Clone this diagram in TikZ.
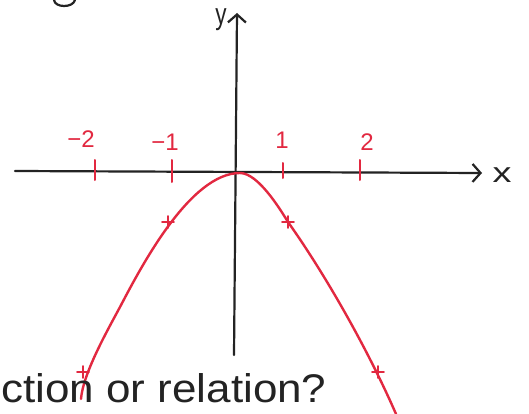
\documentclass[tikz,border=0pt]{standalone}
\usepackage{fontspec}
\setmainfont{Liberation Sans}
\usetikzlibrary{arrows.meta}
\definecolor{penred}{RGB}{226,40,64}
\definecolor{penblack}{RGB}{35,35,35}
\begin{document}
\begin{tikzpicture}[x=1pt,y=-1pt,
  axis/.style={draw=penblack,line width=2.2pt,line cap=round},
  curve/.style={draw=penred,line width=2.4pt,line cap=round,line join=round},
  tickmark/.style={draw=penred,line width=2pt,line cap=round},
  crossmark/.style={draw=penred,line width=1.8pt,line cap=round},
  ticklabel/.style={text=penred,font=\fontsize{24}{24}\selectfont,inner sep=0pt},
  axlabel/.style={text=penblack,inner sep=0pt},
  barb/.style={-{Straight Barb[length=8pt,width=18pt,line width=2.2pt]}},
  plusmark/.pic={\draw[crossmark] (-6,0) -- (6,0) (0,-6) -- (0,6);}]
\useasboundingbox (0,0) rectangle (529,414);
\fill[white] (0,0) rectangle (529,414);

% fragment of a letter at the top edge
\draw[penblack,line width=2.2pt,line cap=round] (54,0) .. controls (55,8) and (73,8) .. (75,0);

% axes
\coordinate (xs) at (15,171);
\coordinate (xe) at (482,173);
\coordinate (ys) at (234,355);
\coordinate (ye) at (237,13);
\draw[axis,barb] (xs) -- (xe);
\draw[axis,barb] (ys) -- (ye);
\node[axlabel,font=\fontsize{30}{30}\selectfont,xscale=0.75] (ylab) at (221,20) {y};
\node[axlabel,font=\fontsize{28}{28}\selectfont,xscale=1.35] (xlab) at (502,175) {x};

% ticks
\draw[tickmark] (95,160) -- (95,180);
\draw[tickmark] (172,160) -- (172,182);
\draw[tickmark] (283,163) -- (283,178);
\draw[tickmark] (360,160) -- (360,180);
\node[ticklabel] (tm2) at (81,139) {−2};
\node[ticklabel] (tm1) at (165,142) {−1};
\node[ticklabel] (tp1) at (282,140) {1};
\node[ticklabel] (tp2) at (367,142) {2};

% parabola
\coordinate (pL) at (81,399);
\coordinate (pA) at (120,307);
\coordinate (top) at (240,173);
\coordinate (pB) at (288,222);
\coordinate (pR) at (396,414);
\draw[curve] (pL) .. controls (83,374) and (106,333) .. (pA)
  .. controls (141,267) and (190,173) .. (top)
  .. controls (258,173) and (280,209) .. (pB)
  .. controls (327,277) and (369,352) .. (pR);
\pic at (168,222) {plusmark};
\pic at (288,222) {plusmark};
\pic at (83,372) {plusmark};
\pic at (378,372) {plusmark};

% question text
\node[axlabel,anchor=base west,xscale=1.1,font=\fontsize{40}{40}\selectfont] (q) at (1,402) {ction or relation?};
\end{tikzpicture}
\end{document}
